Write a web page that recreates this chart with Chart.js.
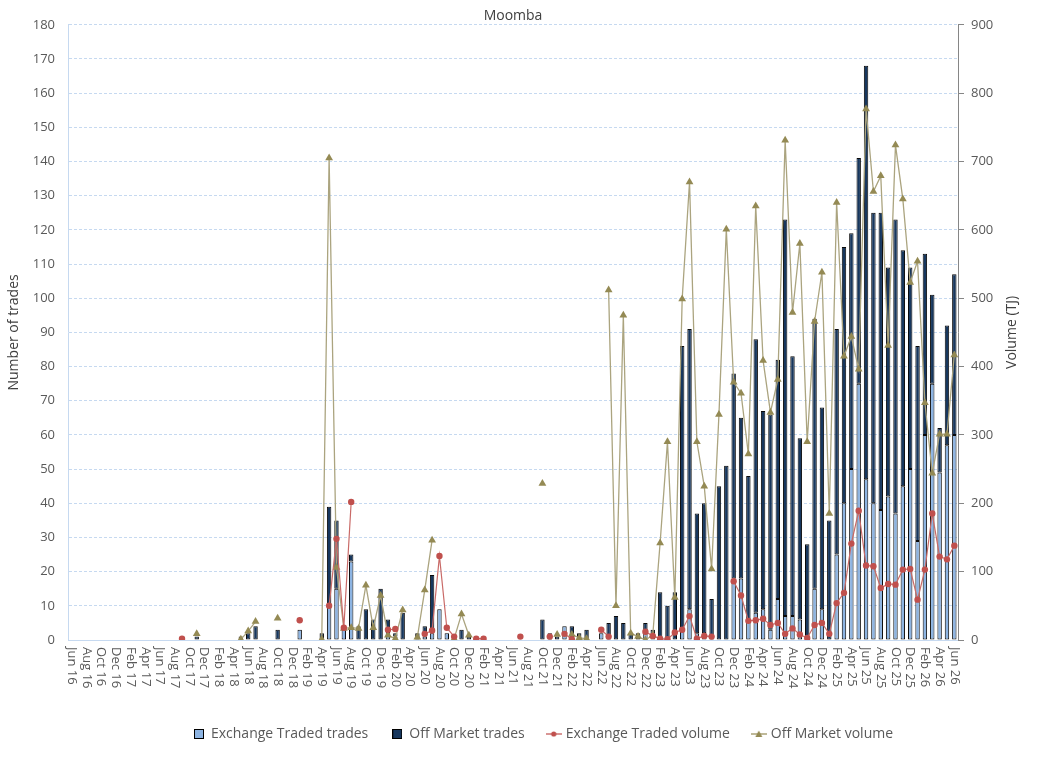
<!DOCTYPE html>
<html>
<head>
<meta charset="utf-8">
<title>Moomba</title>
<script src="https://cdn.jsdelivr.net/npm/chart.js@4.4.1/dist/chart.umd.min.js"></script>
<style>
  html, body { margin: 0; padding: 0; background: #fff; }
  #wrap { width: 1037px; height: 773px; }
</style>
</head>
<body>
<div id="wrap"><canvas id="chart" width="1037" height="773"></canvas></div>
<script>
const months = [
  'Jun 16','Jul 16','Aug 16','Sep 16','Oct 16','Nov 16','Dec 16','Jan 17','Feb 17','Mar 17',
  'Apr 17','May 17','Jun 17','Jul 17','Aug 17','Sep 17','Oct 17','Nov 17','Dec 17','Jan 18',
  'Feb 18','Mar 18','Apr 18','May 18','Jun 18','Jul 18','Aug 18','Sep 18','Oct 18','Nov 18',
  'Dec 18','Jan 19','Feb 19','Mar 19','Apr 19','May 19','Jun 19','Jul 19','Aug 19','Sep 19',
  'Oct 19','Nov 19','Dec 19','Jan 20','Feb 20','Mar 20','Apr 20','May 20','Jun 20','Jul 20',
  'Aug 20','Sep 20','Oct 20','Nov 20','Dec 20','Jan 21','Feb 21','Mar 21','Apr 21','May 21',
  'Jun 21','Jul 21','Aug 21','Sep 21','Oct 21','Nov 21','Dec 21','Jan 22','Feb 22','Mar 22',
  'Apr 22','May 22','Jun 22','Jul 22','Aug 22','Sep 22','Oct 22','Nov 22','Dec 22','Jan 23',
  'Feb 23','Mar 23','Apr 23','May 23','Jun 23','Jul 23','Aug 23','Sep 23','Oct 23','Nov 23',
  'Dec 23','Jan 24','Feb 24','Mar 24','Apr 24','May 24','Jun 24','Jul 24','Aug 24','Sep 24',
  'Oct 24','Nov 24','Dec 24','Jan 25','Feb 25','Mar 25','Apr 25','May 25','Jun 25','Jul 25',
  'Aug 25','Sep 25','Oct 25','Nov 25','Dec 25','Jan 26','Feb 26','Mar 26','Apr 26','May 26',
  'Jun 26'
];

// number of trades per month (left axis)
const exchangeTrades = [
  null,null,null,null,null,null,null,null,null,null,
  null,null,null,null,null,null,null,null,null,null,
  null,null,null,null,null,null,null,null,null,null,
  null,3,null,null,null,10,15,3,23,null,
  null,null,null,2,1,null,null,null,1,2,
  9,2,null,null,null,null,null,null,null,null,
  null,null,null,null,null,2,null,4,null,null,
  null,null,2,null,null,null,null,null,2,null,
  null,null,null,3,9,2,2,null,null,null,
  18,18,6,8,9,3,12,7,7,6,
  null,15,9,null,25,40,50,75,47,40,
  38,42,37,45,50,29,60,75,49,57,
  60
];
const offMarketTrades = [
  null,null,null,null,null,null,null,null,null,null,
  null,null,null,null,null,null,null,1,null,null,
  null,null,null,1,2,4,null,null,3,null,
  null,null,null,null,2,29,20,null,2,4,
  9,6,15,4,1,8,null,2,3,17,
  null,null,null,3,1,null,null,null,null,null,
  null,null,null,null,6,null,1,null,4,2,
  3,null,null,5,7,5,2,2,3,3,
  14,10,14,83,82,35,38,12,45,51,
  60,47,42,80,58,63,70,116,76,53,
  28,79,59,35,66,75,69,66,121,85,
  87,67,86,69,59,57,53,26,13,35,
  47
];

// volume in TJ (right axis)
const exchangeVolume = [
  null,null,null,null,null,null,null,null,null,null,
  null,null,null,null,null,2,null,null,null,null,
  null,null,null,null,null,null,null,null,null,null,
  null,29,null,null,null,50,148,18,202,null,
  null,null,null,15,16,null,null,null,9,14,
  123,18,5,null,null,2,2,null,null,null,
  null,5,null,null,null,5,null,9,1,null,
  null,null,15,5,null,null,null,null,12,6,
  2,1,11,15,35,2,6,5,null,null,
  86,65,28,29,31,22,25,9,17,8,
  3,22,25,9,54,69,141,189,109,108,
  76,82,81,103,104,59,103,185,122,118,
  138
];
const offMarketVolume = [
  null,null,null,null,null,null,null,null,null,null,
  null,null,null,null,null,null,null,9,null,null,
  null,null,null,1,13,27,null,null,32,null,
  null,null,null,null,1,705,106,17,18,17,
  80,18,65,7,2,44,null,4,73,146,
  null,null,2,38,7,null,null,null,null,null,
  null,null,null,null,229,null,8,null,8,3,
  2,null,null,512,50,475,10,5,0,7,
  142,290,62,499,670,290,225,104,330,601,
  377,361,272,635,409,333,381,731,479,580,
  290,466,538,185,640,415,444,396,777,656,
  679,431,724,645,523,554,347,244,301,301,
  417
];

const FONT = '"Open Sans", "DejaVu Sans", sans-serif';
const lightBlue = '#8DB4E2';
const navy = '#17375E';
const red = '#C0504D';
const olive = '#948A54';
const gridBlue = '#C6D9F0';

// small pictures used as legend keys
function swatch(w, h, draw) {
  const c = document.createElement('canvas');
  c.width = w; c.height = h;
  draw(c.getContext('2d'));
  return c;
}
const boxKey = fill => swatch(10, 10, g => {
  g.fillStyle = fill; g.fillRect(0, 0, 10, 10);
  g.strokeStyle = '#000'; g.lineWidth = 1; g.strokeRect(0.5, 0.5, 9, 9);
});
const lineKey = (color, marker) => swatch(16, 10, g => {
  g.strokeStyle = color; g.lineWidth = 1.2;
  g.beginPath(); g.moveTo(0, 5); g.lineTo(16, 5); g.stroke();
  g.fillStyle = color; g.beginPath();
  if (marker === 'circle') g.arc(8, 5, 2.6, 0, Math.PI * 2);
  else { g.moveTo(8, 1.5); g.lineTo(11.5, 8); g.lineTo(4.5, 8); g.closePath(); }
  g.fill();
});

// x labels every second month, turned to read downwards; right axis title
const extraText = {
  id: 'extraText',
  afterLayout(chart) {
    // the legend sits a little right of centre in the original
    chart.legend.left += 25;
    chart.legend.right += 25;
  },
  afterDraw(chart) {
    const ctx = chart.ctx;
    const x = chart.scales.x;
    const area = chart.chartArea;
    ctx.save();
    ctx.fillStyle = '#595959';
    ctx.font = '13px ' + FONT;
    ctx.textAlign = 'left';
    ctx.textBaseline = 'middle';
    months.forEach((m, i) => {
      if (i % 2) return;
      ctx.save();
      ctx.translate(x.getPixelForValue(i), area.bottom + 7);
      ctx.rotate(Math.PI / 2);
      ctx.fillText(m, 0, 0);
      ctx.restore();
    });
    ctx.fillStyle = '#404040';
    ctx.font = '14px ' + FONT;
    ctx.textAlign = 'center';
    ctx.translate(1012, (area.top + area.bottom) / 2);
    ctx.rotate(-Math.PI / 2);
    ctx.fillText('Volume (TJ)', 0, 0);
    ctx.restore();
  }
};

new Chart(document.getElementById('chart'), {
  type: 'bar',
  data: {
    labels: months,
    datasets: [
      {
        label: 'Exchange Traded trades',
        data: exchangeTrades,
        backgroundColor: lightBlue,
        borderColor: '#0a0a0a',
        borderWidth: 1,
        borderSkipped: false,
        yAxisID: 'y',
        stack: 'trades',
        order: 2,
        barPercentage: 0.6,
        categoryPercentage: 1
      },
      {
        label: 'Off Market trades',
        data: offMarketTrades,
        backgroundColor: navy,
        borderColor: '#0a0a0a',
        borderWidth: 1,
        borderSkipped: false,
        yAxisID: 'y',
        stack: 'trades',
        order: 2,
        barPercentage: 0.6,
        categoryPercentage: 1
      },
      {
        type: 'line',
        label: 'Exchange Traded volume',
        data: exchangeVolume,
        yAxisID: 'y1',
        borderColor: '#C96A67',
        borderWidth: 1.2,
        pointStyle: 'circle',
        pointRadius: 3.2,
        pointBackgroundColor: red,
        pointBorderColor: red,
        pointBorderWidth: 0,
        tension: 0,
        spanGaps: false,
        order: 0
      },
      {
        type: 'line',
        label: 'Off Market volume',
        data: offMarketVolume,
        yAxisID: 'y1',
        borderColor: '#ABA47F',
        borderWidth: 1.3,
        pointStyle: 'triangle',
        pointRadius: 4.5,
        pointBackgroundColor: olive,
        pointBorderColor: olive,
        pointBorderWidth: 0,
        tension: 0,
        spanGaps: false,
        order: 1
      }
    ]
  },
  options: {
    responsive: false,
    animation: false,
    layout: { padding: { left: 0, right: 0, top: 0, bottom: 22 } },
    plugins: {
      title: {
        display: true,
        text: 'Moomba',
        color: '#404040',
        font: { family: FONT, size: 14, weight: 'normal' },
        padding: { top: 8, bottom: 0 },
        fullSize: false
      },
      legend: {
        position: 'bottom',
        labels: {
          usePointStyle: true,
          pointStyleWidth: 10,
          padding: 24,
          color: '#595959',
          font: { family: FONT, size: 14 },
          generateLabels: () => [
            { text: 'Exchange Traded trades', pointStyle: boxKey(lightBlue), datasetIndex: 0, lineWidth: 0, fontColor: '#595959' },
            { text: 'Off Market trades', pointStyle: boxKey(navy), datasetIndex: 1, lineWidth: 0, fontColor: '#595959' },
            { text: 'Exchange Traded volume', pointStyle: lineKey(red, 'circle'), datasetIndex: 2, lineWidth: 0, fontColor: '#595959' },
            { text: 'Off Market volume', pointStyle: lineKey(olive, 'triangle'), datasetIndex: 3, lineWidth: 0, fontColor: '#595959' }
          ]
        }
      },
      tooltip: { enabled: false }
    },
    scales: {
      x: {
        stacked: true,
        offset: true,
        grid: { display: false },
        border: { color: gridBlue },
        ticks: { display: false },
        afterFit: s => { s.height = 63; }
      },
      y: {
        position: 'left',
        stacked: true,
        min: 0,
        max: 180,
        ticks: { stepSize: 10, color: '#595959', font: { family: FONT, size: 13 }, padding: 13 },
        grid: { color: gridBlue, drawTicks: false },
        border: { color: gridBlue, dash: [3, 2] },
        title: {
          display: true,
          text: 'Number of trades',
          color: '#404040',
          font: { family: FONT, size: 14 },
          padding: { top: 6, bottom: 0 }
        },
        afterFit: s => { s.width = 68; }
      },
      y1: {
        position: 'right',
        min: 0,
        max: 900,
        ticks: { stepSize: 100, color: '#595959', font: { family: FONT, size: 13 }, padding: 7 },
        grid: { drawOnChartArea: false, drawTicks: true, tickLength: 6, color: '#868686' },
        border: { color: '#868686' },
        afterFit: s => { s.width = 79; }
      }
    }
  },
  plugins: [extraText]
});
</script>
</body>
</html>
